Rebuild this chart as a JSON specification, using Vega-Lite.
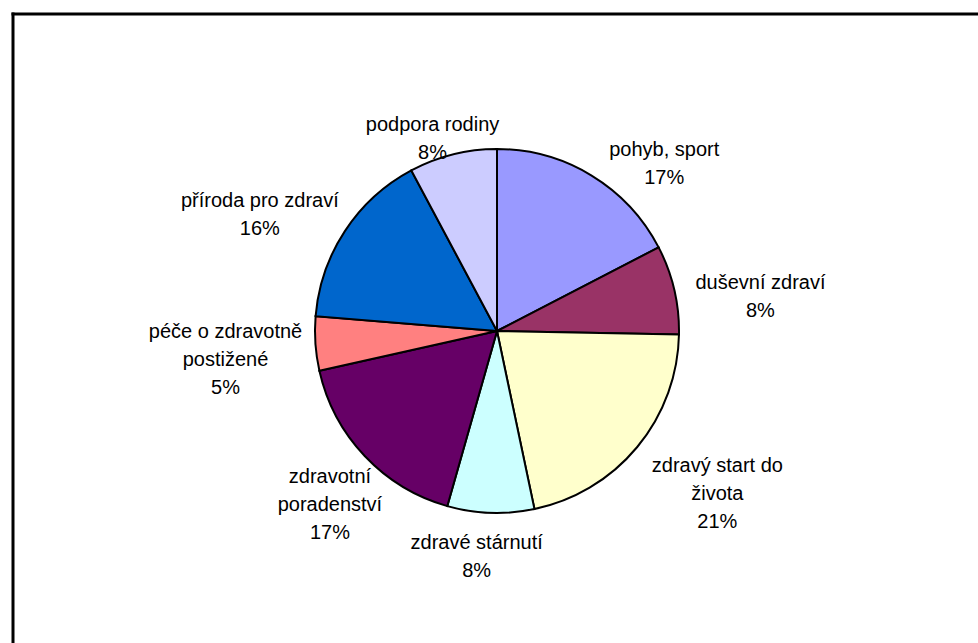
{
  "$schema": "https://vega.github.io/schema/vega-lite/v6.json",
  "width": 978,
  "height": 643,
  "autosize": {"type": "fit", "contains": "padding"},
  "padding": {"left": 10, "top": 11, "right": -6, "bottom": -8},
  "background": "white",
  "config": {
    "view": {"stroke": null},
    "text": {"font": "Liberation Sans", "fontSize": 20, "fill": "black"}
  },
  "data": {
    "values": [
      {"idx": 1, "cat": "pohyb, sport", "label": "pohyb, sport", "value": 17.4},
      {"idx": 2, "cat": "duševní zdraví", "label": "duševní zdraví", "value": 7.9},
      {"idx": 3, "cat": "zdravý start do života", "label": "zdravý start do\nživota", "value": 21.4},
      {"idx": 4, "cat": "zdravé stárnutí", "label": "zdravé stárnutí", "value": 7.7},
      {"idx": 5, "cat": "zdravotní poradenství", "label": "zdravotní\nporadenství", "value": 17.1},
      {"idx": 6, "cat": "péče o zdravotně postižené", "label": "péče o zdravotně\npostižené", "value": 4.8},
      {"idx": 7, "cat": "příroda pro zdraví", "label": "příroda pro zdraví", "value": 15.9},
      {"idx": 8, "cat": "podpora rodiny", "label": "podpora rodiny", "value": 7.8}
    ]
  },
  "transform": [
    {"stack": "value", "groupby": [], "sort": [{"field": "idx", "order": "ascending"}], "as": ["v0", "v1"]},
    {"calculate": "(datum.v0 + datum.v1) / 2", "as": "mid"},
    {"calculate": "datum.label + '\\n' + format(datum.value / 100, '.0%')", "as": "txt"}
  ],
  "layer": [
    {
      "mark": {"type": "arc", "outerRadius": 182, "stroke": "black", "strokeWidth": 2},
      "encoding": {
        "theta": {"field": "v0", "type": "quantitative", "scale": {"domain": [0, 100]}, "stack": null},
        "theta2": {"field": "v1"},
        "color": {
          "field": "cat",
          "type": "nominal",
          "legend": null,
          "scale": {
            "domain": ["pohyb, sport", "duševní zdraví", "zdravý start do života", "zdravé stárnutí", "zdravotní poradenství", "péče o zdravotně postižené", "příroda pro zdraví", "podpora rodiny"],
            "range": ["#9999FF", "#993366", "#FFFFCC", "#CCFFFF", "#660066", "#FF8080", "#0066CC", "#CCCCFF"]
          }
        }
      }
    },
    {
      "transform": [{"filter": {"field": "cat", "oneOf": ["pohyb, sport", "duševní zdraví", "zdravý start do života"]}}],
      "mark": {"type": "text", "radius": 212, "dx": 57, "align": "center", "baseline": "middle", "lineBreak": "\n", "lineHeight": 28},
      "encoding": {
        "theta": {"field": "mid", "type": "quantitative", "scale": {"domain": [0, 100]}, "stack": null},
        "text": {"field": "txt"}
      }
    },
    {
      "transform": [{"filter": {"field": "cat", "oneOf": ["péče o zdravotně postižené", "příroda pro zdraví"]}}],
      "mark": {"type": "text", "radius": 212, "dx": -60, "dy": -14, "align": "center", "baseline": "middle", "lineBreak": "\n", "lineHeight": 28},
      "encoding": {
        "theta": {"field": "mid", "type": "quantitative", "scale": {"domain": [0, 100]}, "stack": null},
        "text": {"field": "txt"}
      }
    },
    {
      "transform": [{"filter": {"field": "cat", "oneOf": ["zdravé stárnutí", "zdravotní poradenství", "podpora rodiny"]}}],
      "mark": {"type": "text", "radius": 212, "dx": -13, "align": "center", "baseline": "middle", "lineBreak": "\n", "lineHeight": 28},
      "encoding": {
        "theta": {"field": "mid", "type": "quantitative", "scale": {"domain": [0, 100]}, "stack": null},
        "text": {"field": "txt"}
      }
    },
    {
      "data": {"values": [{"frame": 1}]},
      "mark": {"type": "rule", "stroke": "black", "strokeWidth": 3, "strokeCap": "square"},
      "encoding": {
        "x": {"value": 0},
        "y": {"value": 0},
        "y2": {"value": "height"}
      }
    },
    {
      "data": {"values": [{"frame": 1}]},
      "mark": {"type": "rule", "stroke": "black", "strokeWidth": 3, "strokeCap": "square"},
      "encoding": {
        "y": {"value": 0},
        "x": {"value": 0},
        "x2": {"value": "width"}
      }
    }
  ]
}
